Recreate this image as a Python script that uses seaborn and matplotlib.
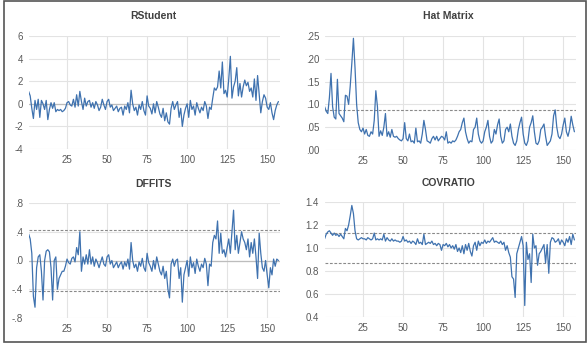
import matplotlib
matplotlib.use("Agg")
import matplotlib.pyplot as plt
import seaborn as sns
import pandas as pd
from matplotlib.patches import Rectangle

# ---------------- data ----------------
rstudent = [
    1.1, 0.7, -0.4, -1.3, 0.3, -0.5, 0.4, -1.2, 0.3, 0.0,
    -0.5, 0.3, -1.4, -0.5, 0.1, -0.4, 0.1, -0.7, -0.5, -0.6,
    -0.5, -0.7, -0.6, -0.4, 0.1, 0.2, -0.1, -0.2, 0.4, -0.3,
    0.8, -0.2, 1.1, 0.2, -0.5, 0.5, -0.2, 0.2, 0.3, -0.3,
    0.1, -0.4, 0.2, -0.1, -0.6, -0.3, 0.4, -0.1, -0.5, 0.2,
    0.4, -0.3, -0.1, -0.6, -0.4, -0.2, -0.7, -0.4, -0.3, -1.0,
    -0.2, -0.5, 0.1, -0.8, 1.2, 0.0, -0.6, -0.3, -1.0, -0.1,
    -0.5, 0.2, -0.6, -1.0, 0.7, -0.2, -0.4, -0.9, 0.0, -0.8,
    0.2, -0.3, -0.9, -1.2, -0.4, -1.5, -0.8, -1.6, -1.8, -0.4,
    0.2, -0.5, -0.1, 0.2, -1.2, -0.4, -2.0, -1.0, -0.4, 0.0,
    -1.2, 0.3, -0.5, -0.2, -1.0, 0.1, -0.4, -0.8, -0.3, -0.6,
    0.2, -0.2, -1.3, -0.3, -0.5, 0.5, 1.4, 1.2, 1.5, 2.9,
    1.4, 3.7, 0.9, 1.2, 0.6, 2.2, 4.2, 0.5, 1.5, 2.0,
    3.2, 0.7, 1.8, 0.6, 1.5, 2.1, 1.6, 1.9, 1.1, 1.4,
    0.6, 2.2, 0.3, 2.5, 0.9, -0.8, 0.2, 0.8, 0.5, -0.3,
    -0.5, 0.1, -0.8, -1.4, -0.6, -0.1, 0.2,
]
hat = [
    0.095, 0.085, 0.080, 0.115, 0.168, 0.095, 0.072, 0.068, 0.155, 0.080,
    0.075, 0.070, 0.062, 0.120, 0.118, 0.100, 0.140, 0.190, 0.245, 0.180,
    0.100, 0.060, 0.045, 0.040, 0.048, 0.035, 0.045, 0.032, 0.030, 0.040,
    0.035, 0.065, 0.130, 0.095, 0.030, 0.042, 0.032, 0.050, 0.080, 0.030,
    0.040, 0.028, 0.045, 0.030, 0.028, 0.030, 0.025, 0.022, 0.020, 0.025,
    0.060, 0.025, 0.020, 0.035, 0.018, 0.020, 0.015, 0.048, 0.018, 0.020,
    0.015, 0.035, 0.065, 0.045, 0.020, 0.018, 0.015, 0.025, 0.030, 0.022,
    0.030, 0.020, 0.025, 0.030, 0.028, 0.022, 0.040, 0.015, 0.018, 0.015,
    0.020, 0.018, 0.022, 0.030, 0.040, 0.045, 0.060, 0.070, 0.040, 0.025,
    0.015, 0.020, 0.018, 0.045, 0.050, 0.070, 0.035, 0.020, 0.015, 0.020,
    0.040, 0.050, 0.065, 0.030, 0.015, 0.020, 0.045, 0.035, 0.055, 0.068,
    0.030, 0.015, 0.020, 0.045, 0.050, 0.040, 0.057, 0.030, 0.015, 0.010,
    0.020, 0.045, 0.060, 0.072, 0.035, 0.015, 0.010, 0.020, 0.050, 0.060,
    0.075, 0.040, 0.015, 0.012, 0.020, 0.045, 0.050, 0.057, 0.030, 0.010,
    0.015, 0.020, 0.035, 0.075, 0.088, 0.050, 0.030, 0.025, 0.035, 0.055,
    0.070, 0.040, 0.030, 0.045, 0.074, 0.055, 0.040,
]
dffits = [
    0.37, 0.30, 0.10, -0.50, -0.65, -0.10, 0.05, 0.08, -0.15, -0.55,
    0.00, 0.13, 0.15, 0.12, -0.10, -0.55, 0.00, 0.05, -0.40, -0.25,
    -0.20, -0.15, -0.15, -0.08, 0.02, -0.03, -0.05, 0.03, 0.05, -0.02,
    0.18, 0.08, 0.40, -0.15, 0.05, -0.05, 0.08, -0.05, 0.15, -0.05,
    0.05, -0.08, 0.02, -0.03, -0.10, -0.02, 0.05, -0.05, -0.08, 0.05,
    0.08, -0.05, 0.00, -0.10, -0.06, -0.02, -0.10, -0.05, -0.02, -0.12,
    -0.02, -0.08, 0.02, -0.12, 0.25, 0.00, -0.10, -0.05, -0.15, -0.02,
    -0.08, 0.03, -0.10, -0.15, 0.10, -0.03, -0.08, -0.15, 0.00, -0.12,
    0.05, -0.05, -0.15, -0.20, -0.08, -0.25, -0.15, -0.40, -0.52, -0.05,
    0.02, -0.08, 0.00, 0.02, -0.25, -0.10, -0.58, -0.20, -0.10, 0.00,
    -0.22, 0.05, -0.10, -0.03, -0.18, 0.02, -0.08, -0.15, -0.05, -0.10,
    0.03, -0.05, -0.35, -0.05, -0.08, 0.25, 0.35, 0.30, 0.55, 0.10,
    0.38, 0.10, 0.15, 0.05, 0.18, 0.30, 0.10, 0.40, 0.70, 0.15,
    0.35, 0.10, 0.25, 0.40, 0.30, 0.25, 0.15, 0.30, 0.05, 0.25,
    0.10, 0.30, 0.05, -0.25, 0.38, 0.10, -0.10, -0.15, 0.00, -0.20,
    -0.38, -0.10, -0.20, 0.02, -0.08, 0.02, 0.00,
]
covratio = [
    1.08, 1.12, 1.14, 1.15, 1.13, 1.11, 1.13, 1.11, 1.12, 1.10,
    1.12, 1.10, 1.08, 1.17, 1.15, 1.20, 1.28, 1.37, 1.30, 1.15,
    1.08, 1.07, 1.08, 1.09, 1.08, 1.08, 1.07, 1.09, 1.08, 1.07,
    1.08, 1.13, 1.07, 1.08, 1.07, 1.08, 1.07, 1.12, 1.06, 1.09,
    1.07, 1.06, 1.08, 1.06, 1.07, 1.06, 1.06, 1.05, 1.06, 1.10,
    1.06, 1.07, 1.05, 1.06, 1.04, 1.06, 1.05, 1.03, 1.08, 1.04,
    1.05, 1.03, 1.12, 1.03, 1.04, 1.05, 1.04, 1.06, 1.03, 1.04,
    1.02, 1.04, 1.03, 0.98, 1.03, 1.02, 1.04, 1.01, 1.03, 1.00,
    1.02, 0.99, 1.03, 0.97, 1.00, 0.96, 1.02, 0.95, 1.03, 0.98,
    1.04, 0.97, 0.93, 1.02, 1.05, 0.98, 1.06, 1.02, 1.05, 1.04,
    1.07, 1.04, 1.06, 1.05, 1.07, 1.09, 1.05, 1.06, 1.05, 1.04,
    1.06, 1.03, 1.05, 0.98, 1.02, 0.96, 0.92, 0.75, 0.73, 0.57,
    0.95, 1.00, 1.05, 1.10, 1.02, 0.50, 1.05, 0.90, 0.95, 0.70,
    1.12, 1.00, 1.02, 0.85, 0.95, 0.97, 1.00, 1.03, 0.87, 1.03,
    0.78, 1.05, 1.09, 1.08, 1.05, 1.06, 1.08, 1.03, 1.07, 1.05,
    1.02, 1.08, 1.05, 1.10, 1.03, 1.12, 1.07,
]
obs = list(range(1, len(rstudent) + 1))

titles = ["RStudent", "Hat Matrix", "DFFITS", "COVRATIO"]
x_ticks = [25, 50, 75, 100, 125, 150]
rs_ticks = [-4, -2, 0, 2, 4, 6]
rs_labels = ["-4", "-2", "0", "2", "4", "6"]
hat_ticks = [0.00, 0.05, 0.10, 0.15, 0.20, 0.25]
hat_labels = [".00", ".05", ".10", ".15", ".20", ".25"]
df_ticks = [-0.8, -0.4, 0.0, 0.4, 0.8]
df_labels = ["-.8", "-.4", ".0", ".4", ".8"]
cv_ticks = [0.4, 0.6, 0.8, 1.0, 1.2, 1.4]
cv_labels = ["0.4", "0.6", "0.8", "1.0", "1.2", "1.4"]
hat_cut = [0.0886]
df_cut = [-0.421, 0.421]
cv_cut = [0.866, 1.134]

# ---------------- styling ----------------
sns.set_style("white")
plt.rcParams['font.family'] = ['Liberation Sans', 'DejaVu Sans']

LINE = "#3f72af"
GRID = "#e3e3e3"
TXT = "#595959"

data = pd.DataFrame({"obs": obs, "RStudent": rstudent, "Hat Matrix": hat,
                     "DFFITS": dffits, "COVRATIO": covratio})

W, H = 588, 348
fig = plt.figure(figsize=(W / 100, H / 100), dpi=100)


def ax_at(left, top, right, bottom):
    return fig.add_axes([left / W, 1 - bottom / H, (right - left) / W, (bottom - top) / H])


panels = [
    ("RStudent", (28.6, 36, 280, 149), (-4, 6), rs_ticks, rs_labels, [], [0]),
    ("Hat Matrix", (324.6, 36, 576, 150), (0, 0.25), hat_ticks, hat_labels, hat_cut, []),
    ("DFFITS", (28.6, 203, 280, 318), (-0.8, 0.8), df_ticks, df_labels, df_cut, [0]),
    ("COVRATIO", (324.6, 202, 576, 317), (0.4, 1.4), cv_ticks, cv_labels, cv_cut, []),
]

for name, box, ylim, yt, yl, cuts, zero in panels:
    ax = ax_at(*box)
    for t in x_ticks:
        ax.axvline(t, color=GRID, lw=0.8, zorder=0)
    for t in yt:
        ax.axhline(t, color=GRID, lw=0.8, zorder=0)
    for z in zero:
        ax.axhline(z, color="#bdbdbd", lw=0.9, zorder=1)
    for c in cuts:
        ax.axhline(c, color="#8a8a8a", lw=0.8, ls=(0, (2.5, 1.5)), zorder=1)
    sns.lineplot(data=data, x="obs", y=name, ax=ax, color=LINE, lw=0.9, zorder=3)
    ax.set_xlim(1, 158)
    ax.set_ylim(*ylim)
    ax.set_xticks(x_ticks)
    ax.set_xticklabels([str(t) for t in x_ticks])
    ax.set_yticks(yt)
    ax.set_yticklabels(yl)
    ax.tick_params(axis="both", length=0, labelsize=7, labelcolor=TXT, pad=4)
    ax.set_xlabel("")
    ax.set_ylabel("")
    for s in ax.spines.values():
        s.set_visible(False)
    ax.patch.set_alpha(0)

fig.text(153 / W, 1 - 16 / H, "RStudent", ha="center", va="center", fontsize=7.5, color="#404040", weight="bold")
fig.text(448 / W, 1 - 16 / H, "Hat Matrix", ha="center", va="center", fontsize=7.5, color="#404040", weight="bold")
fig.text(153 / W, 1 - 184 / H, "DFFITS", ha="center", va="center", fontsize=7.5, color="#404040", weight="bold")
fig.text(448 / W, 1 - 183 / H, "COVRATIO", ha="center", va="center", fontsize=7.5, color="#404040", weight="bold")

fig.patches.append(Rectangle((4 / W, 1 - 342 / H), 582 / W, 341 / H, transform=fig.transFigure,
                             fill=False, edgecolor="#555555", lw=1.2))

fig.savefig("out.png", dpi=100)
